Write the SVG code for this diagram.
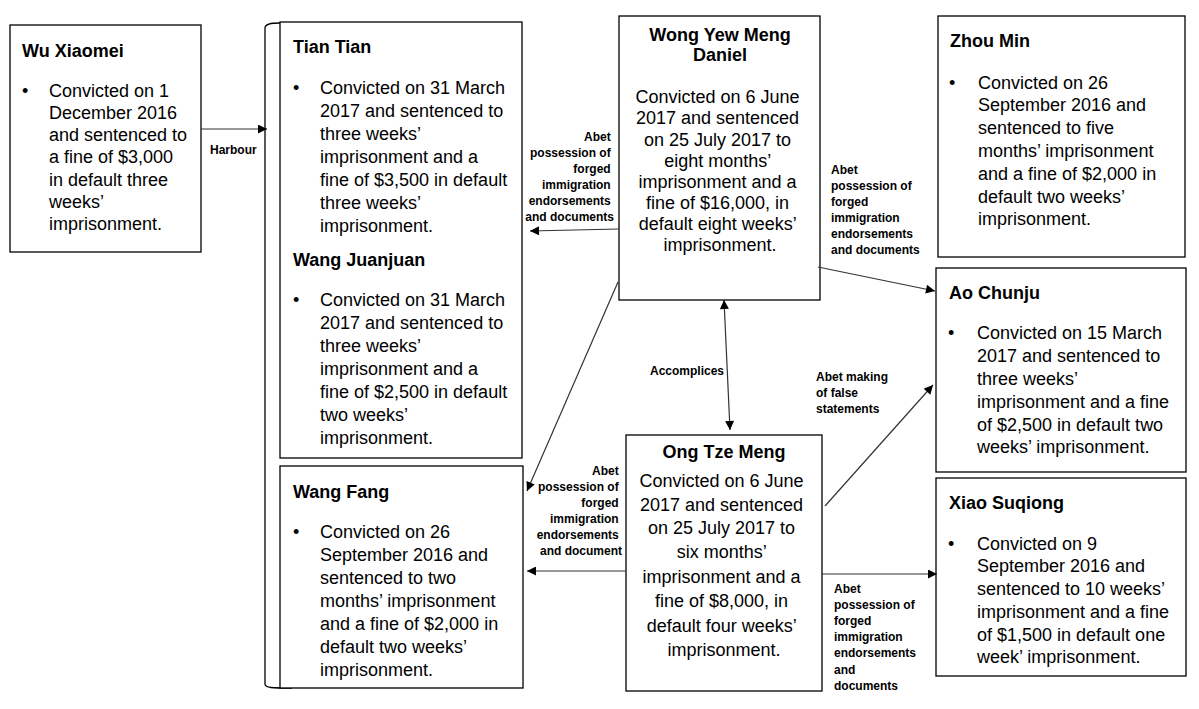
<svg xmlns="http://www.w3.org/2000/svg" width="1199" height="709" viewBox="0 0 1199 709">
<defs>
<marker id="arr" viewBox="0 0 10 10" refX="10" refY="5" markerWidth="10" markerHeight="9" markerUnits="userSpaceOnUse" orient="auto-start-reverse">
<path d="M0,0 L10,5 L0,10 z" fill="#000"/>
</marker>
</defs>
<style>
.box{fill:#fff;stroke:#000;stroke-width:1.3}
.nm{font-family:"Liberation Sans",Arial,sans-serif;font-size:18px;font-weight:bold;fill:#000}
.bd{font-family:"Liberation Sans",Arial,sans-serif;font-size:18px;fill:#000}
.lb{font-family:"Liberation Sans",Arial,sans-serif;font-size:12px;font-weight:bold;fill:#000}
.c{text-anchor:middle}
.r{text-anchor:end}
.ln{fill:none;stroke:#333;stroke-width:1.2;marker-end:url(#arr)}
</style>
<rect width="1199" height="709" fill="#fff"/>

<g id="group-bracket">
<path d="M280,23 C270,23 265,24 265,28 L265,684 C265,688 272,688 292,688" fill="none" stroke="#000" stroke-width="1.3"/>
</g>

<g id="wu-xiaomei">
<rect class="box" x="10" y="25" width="191" height="227"/>
<text class="nm" x="22" y="57">Wu Xiaomei</text>
<text class="bd" x="22" y="97">•</text>
<text class="bd" x="49">
<tspan x="49" y="97">Convicted on 1</tspan>
<tspan x="49" y="119">December 2016</tspan>
<tspan x="49" y="141">and sentenced to</tspan>
<tspan x="49" y="163">a fine of $3,000</tspan>
<tspan x="49" y="186">in default three</tspan>
<tspan x="49" y="208">weeks’</tspan>
<tspan x="49" y="230">imprisonment.</tspan>
</text>
</g>

<g id="tian-tian-wang-juanjuan">
<rect class="box" x="280" y="22" width="242" height="436"/>
<text class="nm" x="293" y="53">Tian Tian</text>
<text class="bd" x="293" y="94">•</text>
<text class="bd">
<tspan x="320" y="94">Convicted on 31 March</tspan>
<tspan x="320" y="117">2017 and sentenced to</tspan>
<tspan x="320" y="140">three weeks’</tspan>
<tspan x="320" y="163">imprisonment and a</tspan>
<tspan x="320" y="186">fine of $3,500 in default</tspan>
<tspan x="320" y="209">three weeks’</tspan>
<tspan x="320" y="232">imprisonment.</tspan>
</text>
<text class="nm" x="293" y="266">Wang Juanjuan</text>
<text class="bd" x="293" y="306">•</text>
<text class="bd">
<tspan x="320" y="306">Convicted on 31 March</tspan>
<tspan x="320" y="329">2017 and sentenced to</tspan>
<tspan x="320" y="352">three weeks’</tspan>
<tspan x="320" y="375">imprisonment and a</tspan>
<tspan x="320" y="398">fine of $2,500 in default</tspan>
<tspan x="320" y="421">two weeks’</tspan>
<tspan x="320" y="444">imprisonment.</tspan>
</text>
</g>

<g id="wang-fang">
<rect class="box" x="280" y="466" width="243" height="222"/>
<text class="nm" x="293" y="498">Wang Fang</text>
<text class="bd" x="293" y="538">•</text>
<text class="bd">
<tspan x="320" y="538">Convicted on 26</tspan>
<tspan x="320" y="561">September 2016 and</tspan>
<tspan x="320" y="584">sentenced to two</tspan>
<tspan x="320" y="607">months’ imprisonment</tspan>
<tspan x="320" y="630">and a fine of $2,000 in</tspan>
<tspan x="320" y="653">default two weeks’</tspan>
<tspan x="320" y="676">imprisonment.</tspan>
</text>
</g>

<g id="wong-yew-meng-daniel">
<rect class="box" x="619" y="16" width="201" height="284"/>
<text class="nm c" x="720" y="41">Wong Yew Meng</text>
<text class="nm c" x="720" y="61">Daniel</text>
<text class="bd c">
<tspan x="720" y="103">Convicted on 6 June</tspan>
<tspan x="720" y="124">2017 and sentenced</tspan>
<tspan x="720" y="146">on 25 July 2017 to</tspan>
<tspan x="720" y="167">eight months’</tspan>
<tspan x="720" y="188">imprisonment and a</tspan>
<tspan x="720" y="209">fine of $16,000, in</tspan>
<tspan x="720" y="230">default eight weeks’</tspan>
<tspan x="720" y="251">imprisonment.</tspan>
</text>
</g>

<g id="ong-tze-meng">
<rect class="box" x="626" y="435" width="196" height="256"/>
<text class="nm c" x="724" y="458">Ong Tze Meng</text>
<text class="bd c">
<tspan x="724" y="487">Convicted on 6 June</tspan>
<tspan x="724" y="511">2017 and sentenced</tspan>
<tspan x="724" y="534">on 25 July 2017 to</tspan>
<tspan x="724" y="558">six months’</tspan>
<tspan x="724" y="583">imprisonment and a</tspan>
<tspan x="724" y="607">fine of $8,000, in</tspan>
<tspan x="724" y="632">default four weeks’</tspan>
<tspan x="724" y="656">imprisonment.</tspan>
</text>
</g>

<g id="zhou-min">
<rect class="box" x="938" y="16" width="247" height="241"/>
<text class="nm" x="950" y="47">Zhou Min</text>
<text class="bd" x="949" y="89">•</text>
<text class="bd">
<tspan x="978" y="89">Convicted on 26</tspan>
<tspan x="978" y="111">September 2016 and</tspan>
<tspan x="978" y="134">sentenced to five</tspan>
<tspan x="978" y="157">months’ imprisonment</tspan>
<tspan x="978" y="180">and a fine of $2,000 in</tspan>
<tspan x="978" y="203">default two weeks’</tspan>
<tspan x="978" y="225">imprisonment.</tspan>
</text>
</g>

<g id="ao-chunju">
<rect class="box" x="936" y="268" width="250" height="204"/>
<text class="nm" x="949" y="299">Ao Chunju</text>
<text class="bd" x="948" y="339">•</text>
<text class="bd">
<tspan x="977" y="339">Convicted on 15 March</tspan>
<tspan x="977" y="362">2017 and sentenced to</tspan>
<tspan x="977" y="385">three weeks’</tspan>
<tspan x="977" y="408">imprisonment and a fine</tspan>
<tspan x="977" y="431">of $2,500 in default two</tspan>
<tspan x="977" y="453">weeks’ imprisonment.</tspan>
</text>
</g>

<g id="xiao-suqiong">
<rect class="box" x="936" y="478" width="250" height="198"/>
<text class="nm" x="949" y="509">Xiao Suqiong</text>
<text class="bd" x="948" y="550">•</text>
<text class="bd">
<tspan x="977" y="550">Convicted on 9</tspan>
<tspan x="977" y="572">September 2016 and</tspan>
<tspan x="977" y="595">sentenced to 10 weeks’</tspan>
<tspan x="977" y="618">imprisonment and a fine</tspan>
<tspan x="977" y="641">of $1,500 in default one</tspan>
<tspan x="977" y="663">week’ imprisonment.</tspan>
</text>
</g>

<g id="connectors">
<line class="ln" x1="201" y1="129" x2="267" y2="129"/>
<text class="lb" x="210" y="154">Harbour</text>

<line class="ln" x1="619" y1="229" x2="530" y2="231"/>
<text class="lb r">
<tspan x="614" y="141">Abet</tspan>
<tspan x="614" y="157">possession of</tspan>
<tspan x="614" y="173">forged</tspan>
<tspan x="614" y="189">immigration</tspan>
<tspan x="614" y="205">endorsements</tspan>
<tspan x="614" y="221">and documents</tspan>
</text>

<line class="ln" x1="618" y1="282" x2="527" y2="491"/>

<line class="ln" x1="626" y1="571" x2="527" y2="571"/>
<text class="lb r">
<tspan x="622" y="475">Abet</tspan>
<tspan x="622" y="491">possession of</tspan>
<tspan x="622" y="507">forged</tspan>
<tspan x="622" y="523">immigration</tspan>
<tspan x="622" y="539">endorsements</tspan>
<tspan x="622" y="555">and document</tspan>
</text>

<line class="ln" x1="724" y1="300" x2="730" y2="430" style="marker-start:url(#arr)"/>
<text class="lb" x="650" y="375">Accomplices</text>

<line class="ln" x1="818" y1="267" x2="935" y2="291"/>
<text class="lb">
<tspan x="831" y="174">Abet</tspan>
<tspan x="831" y="190">possession of</tspan>
<tspan x="831" y="206">forged</tspan>
<tspan x="831" y="222">immigration</tspan>
<tspan x="831" y="238">endorsements</tspan>
<tspan x="831" y="254">and documents</tspan>
</text>

<line class="ln" x1="825" y1="506" x2="933" y2="385"/>
<text class="lb">
<tspan x="816" y="381">Abet making</tspan>
<tspan x="816" y="397">of false</tspan>
<tspan x="816" y="413">statements</tspan>
</text>

<line class="ln" x1="822" y1="574" x2="937" y2="574"/>
<text class="lb">
<tspan x="834" y="593">Abet</tspan>
<tspan x="834" y="609">possession of</tspan>
<tspan x="834" y="625">forged</tspan>
<tspan x="834" y="641">immigration</tspan>
<tspan x="834" y="657">endorsements</tspan>
<tspan x="834" y="674">and</tspan>
<tspan x="834" y="690">documents</tspan>
</text>
</g>
</svg>
